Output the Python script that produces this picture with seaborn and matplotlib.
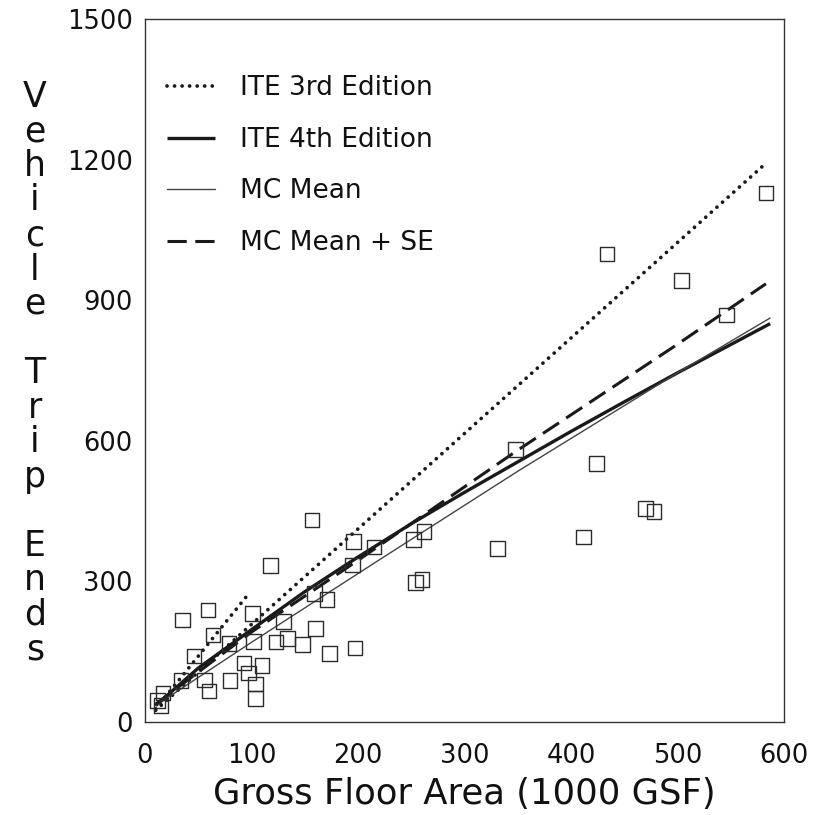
#trip generation plot - GFA vs vehicle trip ends
import matplotlib
matplotlib.use("Agg")
import matplotlib.pyplot as plt
from matplotlib.lines import Line2D
import pandas as pd
import seaborn as sns

gfa = [583, 434, 504, 546, 348, 424, 470, 478, 412, 331, 262, 252, 254, 260,
       215, 196, 195, 157, 118, 159, 171, 160, 173, 197, 148, 134, 123, 130,
       101, 35, 59, 64, 102, 46, 79, 110, 104, 104, 97, 93, 80, 34, 56, 60,
       12, 15, 17]
trips = [1129, 999, 942, 868, 582, 551, 456, 449, 395, 370, 406, 390, 298, 304,
         373, 385, 335, 431, 334, 274, 261, 200, 146, 158, 165, 178, 171, 215,
         232, 218, 239, 186, 172, 141, 168, 121, 81, 50, 105, 126, 88, 88, 90, 66,
         46, 35, 62]

# ITE 3rd edition (two dotted segments)
ite3_x_a = [10, 95]
ite3_y_a = [28, 267]
ite3_x_b = [10, 580]
ite3_y_b = [25, 1186]
# ITE 4th edition
ite4_x = [10, 50, 100, 150, 200, 250, 300, 350, 400, 450, 500, 587]
ite4_y = [35, 115, 197, 278, 352, 423, 490, 555, 620, 683, 745, 850]
# MC mean
mc_x = [10, 100, 220, 350, 500, 587]
mc_y = [35, 170, 346, 535, 745, 862]
# MC mean + SE
mcse_x = [10, 100, 200, 348, 500, 583]
mcse_y = [38, 192, 345, 577, 806, 935]

legend_labels = ["ITE 3rd Edition", "ITE 4th Edition", "MC Mean", "MC Mean + SE"]
ylabel_txt = "Vehicle Trip Ends"

sns.set_style("white")
plt.rcParams["font.family"] = ["DejaVu Sans"]
plt.rcParams["text.color"] = "#111111"
plt.rcParams["xtick.labelcolor"] = "#111111"
plt.rcParams["ytick.labelcolor"] = "#111111"

W, H = 814, 815
fig = plt.figure(figsize=(W / 100, H / 100), dpi=100)
ax = fig.add_axes([145 / W, 1 - 722 / H, (784 - 145) / W, (722 - 19) / H])

ink = "#1a1a1a"
dotted = dict(color=ink, lw=2.7, linestyle=(0, (0.01, 2.0)), dash_capstyle="round")
thick = dict(color=ink, lw=2.4, solid_capstyle="butt")
thin = dict(color="#444444", lw=1.0)
dashed = dict(color=ink, lw=2.2, linestyle=(0, (6.3, 2.8)), dash_capstyle="butt")

df = pd.DataFrame({"gfa": gfa, "trips": trips})
sns.scatterplot(data=df, x="gfa", y="trips", ax=ax, marker="s", s=110,
                facecolor="none", edgecolor="#2b2b2b", linewidth=1.0, zorder=3)

sns.lineplot(x=ite3_x_a, y=ite3_y_a, ax=ax, estimator=None, sort=False, **dotted)
sns.lineplot(x=ite3_x_b, y=ite3_y_b, ax=ax, estimator=None, sort=False, **dotted)
sns.lineplot(x=ite4_x, y=ite4_y, ax=ax, estimator=None, sort=False, **thick)
sns.lineplot(x=mc_x, y=mc_y, ax=ax, estimator=None, sort=False, **thin)
sns.lineplot(x=mcse_x, y=mcse_y, ax=ax, estimator=None, sort=False, **dashed)

ax.set_xlim(0, 600)
ax.set_ylim(0, 1500)
ax.set_xticks(range(0, 601, 100))
ax.set_yticks(range(0, 1501, 300))
ax.tick_params(axis="x", direction="in", length=8.5, width=0.8, pad=15,
               labelsize=18.5, color="#333333")
ax.tick_params(axis="y", direction="in", length=8.5, width=0.8, pad=9,
               labelsize=18.5, color="#333333")
for sp in ax.spines.values():
    sp.set_color("#333333")
    sp.set_linewidth(1.0)

ax.set_xlabel("Gross Floor Area (1000 GSF)", fontsize=25.5, labelpad=6, color="#111111")
ax.set_ylabel("")

handles = [Line2D([], [], **dotted), Line2D([], [], **thick),
           Line2D([], [], **thin), Line2D([], [], **dashed)]
ax.legend(handles, legend_labels, loc="upper left", bbox_to_anchor=(0.035, 0.92),
          frameon=False, fontsize=19, handlelength=1.82, handletextpad=0.95,
          labelspacing=0.97, borderpad=0, borderaxespad=0)

# stacked y label, one letter per line, blank line between words
chars = []
for i, word in enumerate(ylabel_txt.split()):
    if i:
        chars.append("")
    chars.extend(list(word))
for i, ch in enumerate(chars):
    fig.text(35 / W, 1 - (107 + 34.5 * i) / H, ch, ha="center", va="baseline",
             fontsize=25, color="#111111")

fig.savefig("out.png", dpi=100, facecolor="white")
